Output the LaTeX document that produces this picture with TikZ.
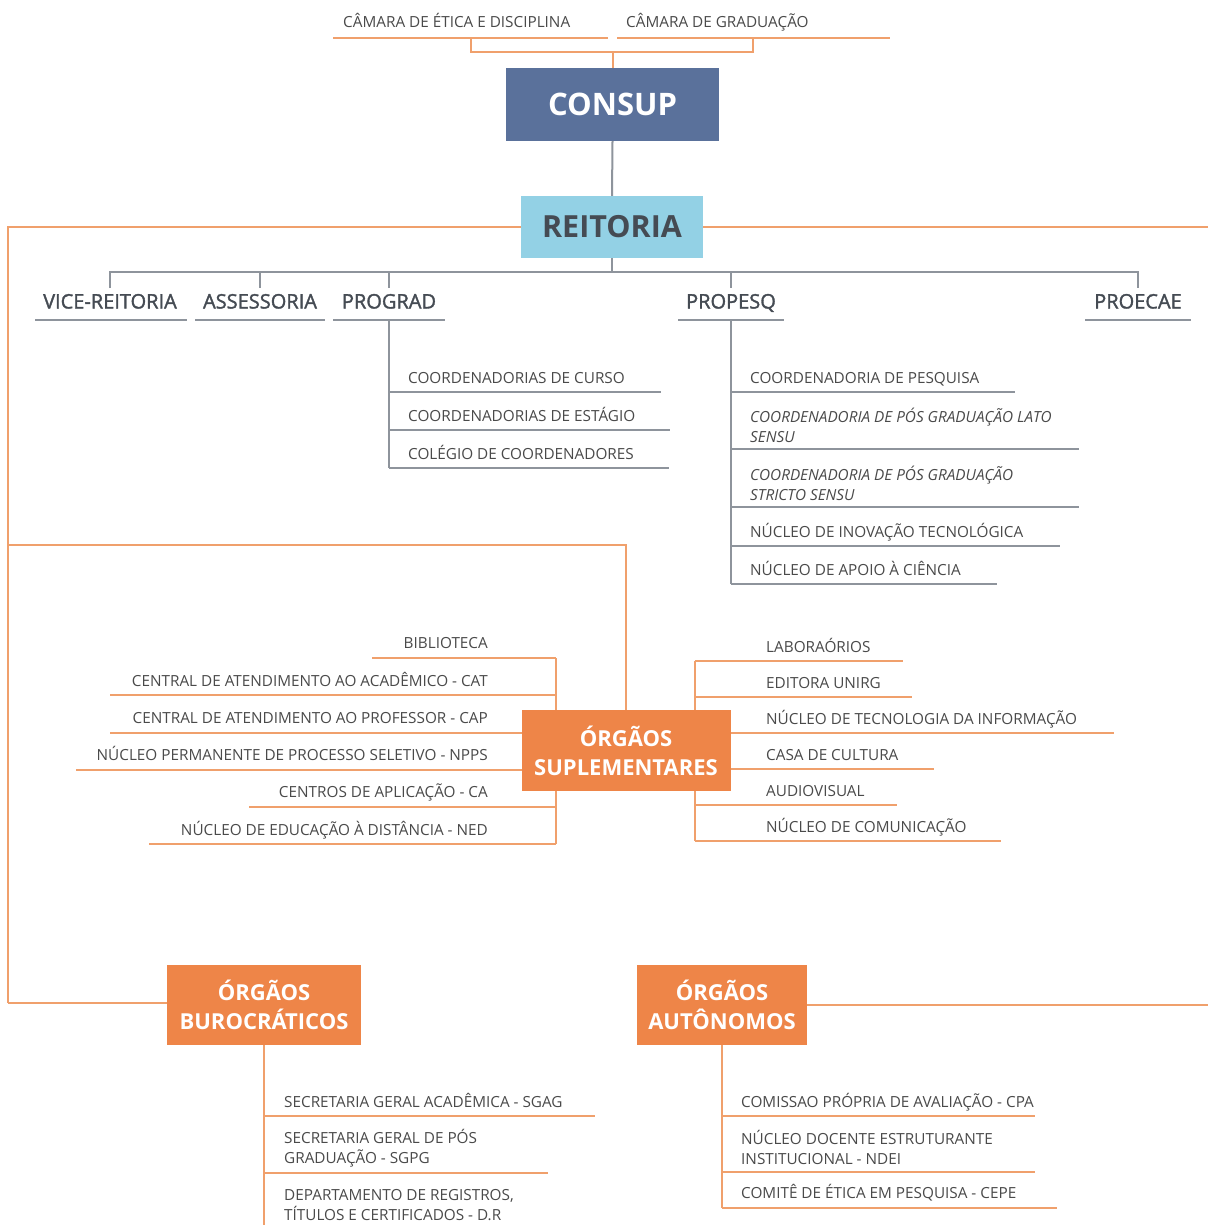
\documentclass[tikz,border=0pt]{standalone}
\usepackage{fontspec}
\setmainfont{Open Sans}
\newfontfamily\semib[FakeBold=1.6]{Open Sans}
\definecolor{lineor}{HTML}{F0A06C}
\definecolor{boxor}{HTML}{EE8548}
\definecolor{consupc}{HTML}{5A719B}
\definecolor{reitc}{HTML}{93D1E5}
\definecolor{lineg}{HTML}{8E949C}
\definecolor{txt}{HTML}{4A4A4A}
\definecolor{headc}{HTML}{454B53}
\begin{document}
\begin{tikzpicture}[x=1pt,y=-1pt,
  oline/.style={draw=lineor,line width=2pt},
  gline/.style={draw=lineg,line width=2pt},
  lbl/.style={font=\fontsize{15.3}{20}\selectfont,text=txt,inner sep=0pt,anchor=base west,align=left},
  lblm/.style={lbl,anchor=west},
  lblr/.style={lbl,anchor=base east,align=right},
  head/.style={font=\semib\fontsize{20}{22}\selectfont,text=headc,inner sep=0pt,anchor=base},
  obox/.style={fill=boxor,text=white,font=\bfseries\fontsize{22}{29}\selectfont,align=center,inner sep=0pt}]
\useasboundingbox[fill=white] (0,0) rectangle (1208,1225);

% ---------- top chambers ----------
\node[lbl] (cet) at (343,28) {CÂMARA DE ÉTICA E DISCIPLINA};
\node[lbl] (cgr) at (626,28) {CÂMARA DE GRADUAÇÃO};
\coordinate (cetA) at (333,38); \coordinate (cetB) at (608,38);
\coordinate (cgrA) at (617,38); \coordinate (cgrB) at (890,38);
\draw[oline] (cetA) -- (cetB);
\draw[oline] (cgrA) -- (cgrB);
\draw[oline] (471,38) |- (753,52) -- (753,38);

% ---------- main boxes ----------
\node[fill=consupc,text=white,font=\bfseries\fontsize{31}{33}\selectfont,minimum width=213pt,minimum height=73pt,inner sep=0pt] (consup) at (612.5,104.5) {CONSUP};
\draw[oline] (612.5,52) -- (consup.north);

% big orange lines
\coordinate (sw) at (8,227);
\coordinate (sb) at (8,545);
\coordinate (se) at (626,545);
\coordinate (bw) at (8,1003);
\coordinate (re) at (1208,227);
\coordinate (ae) at (1208,1005);

\node[fill=reitc,text=headc,font=\bfseries\fontsize{30.5}{32}\selectfont,minimum width=182pt,minimum height=62pt,inner sep=0pt] (reit) at (612,227) {REITORIA};
\draw[gline] (consup.south) -- (reit.north);

% ---------- gray tree ----------
\draw[gline] (reit.south) -- (612,272);
\draw[gline] (110,288) -- (110,272) -- (1138,272) -- (1138,288);
\foreach \x in {260,389,731} \draw[gline] (\x,272) -- (\x,288);

\node[head] (vice) at (110,308.5) {VICE-REITORIA};
\node[head] (asse) at (260,308.5) {ASSESSORIA};
\node[head] (prog) at (389,308.5) {PROGRAD};
\node[head] (prop) at (731,308.5) {PROPESQ};
\node[head] (proe) at (1138,308.5) {PROECAE};
\draw[gline] (35,320) -- (187,320);
\draw[gline] (195,320) -- (325,320);
\draw[gline] (333,320) -- (445,320);
\draw[gline] (678,320) -- (784,320);
\draw[gline] (1085,320) -- (1191,320);

% PROGRAD children
\draw[gline] (389,320) -- (389,468);
\node[lbl] (pg1) at (408,383) {COORDENADORIAS DE CURSO};
\node[lbl] (pg2) at (408,421) {COORDENADORIAS DE ESTÁGIO};
\node[lbl] (pg3) at (408,459) {COLÉGIO DE COORDENADORES};
\draw[gline] (389,392) -- (661,392);
\draw[gline] (389,430) -- (670,430);
\draw[gline] (389,468) -- (669,468);

% PROPESQ children
\draw[gline] (731,320) -- (731,584);
\node[lbl] (pp1) at (750,383) {COORDENADORIA DE PESQUISA};
\node[lblm,font=\itshape\fontsize{15.3}{20}\selectfont] (pp2) at (750,425) {COORDENADORIA DE PÓS GRADUAÇÃO LATO\\SENSU};
\node[lblm,font=\itshape\fontsize{15.3}{20}\selectfont] (pp3) at (750,483) {COORDENADORIA DE PÓS GRADUAÇÃO\\STRICTO SENSU};
\node[lbl] (pp4) at (750,537) {NÚCLEO DE INOVAÇÃO TECNOLÓGICA};
\node[lbl] (pp5) at (750,575) {NÚCLEO DE APOIO À CIÊNCIA};
\draw[gline] (731,392) -- (1015,392);
\draw[gline] (731,449) -- (1079,449);
\draw[gline] (731,507) -- (1079,507);
\draw[gline] (731,546) -- (1060,546);
\draw[gline] (731,584) -- (997,584);

% ---------- orange trunk lines ----------
\draw[oline] (reit.west) -- (sw) -- (bw);
\draw[oline] (reit.east) -- (re);
\draw[oline] (sb) -- (se) -- (626,710);

% ---------- Órgãos suplementares ----------
\draw[oline] (556,658) -- (556,844);
\node[lblr] (s1) at (488,648) {BIBLIOTECA};
\node[lblr] (s2) at (488,686) {CENTRAL DE ATENDIMENTO AO ACADÊMICO - CAT};
\node[lblr] (s3) at (488,723) {CENTRAL DE ATENDIMENTO AO PROFESSOR - CAP};
\node[lblr] (s4) at (488,760) {NÚCLEO PERMANENTE DE PROCESSO SELETIVO - NPPS};
\node[lblr] (s5) at (488,797) {CENTROS DE APLICAÇÃO - CA};
\node[lblr] (s6) at (488,835) {NÚCLEO DE EDUCAÇÃO À DISTÂNCIA - NED};
\draw[oline] (372,658) -- (556,658);
\draw[oline] (110,695) -- (556,695);
\draw[oline] (110,733) -- (556,733);
\draw[oline] (76,770) -- (556,770);
\draw[oline] (249,807) -- (556,807);
\draw[oline] (149,844) -- (556,844);

\draw[oline] (695,661) -- (695,841);
\node[lbl] (r1) at (766,652) {LABORAÓRIOS};
\node[lbl] (r2) at (766,688) {EDITORA UNIRG};
\node[lbl] (r3) at (766,724) {NÚCLEO DE TECNOLOGIA DA INFORMAÇÃO};
\node[lbl] (r4) at (766,760) {CASA DE CULTURA};
\node[lbl] (r5) at (766,796) {AUDIOVISUAL};
\node[lbl] (r6) at (766,832) {NÚCLEO DE COMUNICAÇÃO};
\draw[oline] (695,661) -- (903,661);
\draw[oline] (695,697) -- (912,697);
\draw[oline] (695,733) -- (1114,733);
\draw[oline] (695,769) -- (934,769);
\draw[oline] (695,805) -- (897,805);
\draw[oline] (695,841) -- (1001,841);

\node[obox,minimum width=209pt,minimum height=81pt] (supl) at (626,750.5) {ÓRGÃOS\\SUPLEMENTARES};

% ---------- Órgãos burocráticos ----------
\node[obox,minimum width=194pt,minimum height=80pt] (buro) at (264,1005) {ÓRGÃOS\\BUROCRÁTICOS};
\draw[oline] (bw) -- (buro.west |- bw);
\draw[oline] (buro.south) -- (264,1225);
\node[lbl] (b1) at (284,1107) {SECRETARIA GERAL ACADÊMICA - SGAG};
\node[lblm] (b2) at (284,1148) {SECRETARIA GERAL DE PÓS\\GRADUAÇÃO - SGPG};
\node[lblm] (b3) at (284,1205) {DEPARTAMENTO DE REGISTROS,\\TÍTULOS E CERTIFICADOS - D.R};
\draw[oline] (264,1116) -- (595,1116);
\draw[oline] (264,1173) -- (548,1173);

% ---------- Órgãos autônomos ----------
\node[obox,minimum width=170pt,minimum height=80pt] (auto) at (722,1005) {ÓRGÃOS\\AUTÔNOMOS};
\draw[oline] (auto.east) -- (ae);
\draw[oline] (auto.south) -- (722,1208);
\node[lbl] (a1) at (741,1107) {COMISSAO PRÓPRIA DE AVALIAÇÃO - CPA};
\node[lblm] (a2) at (741,1147) {NÚCLEO DOCENTE ESTRUTURANTE\\INSTITUCIONAL - NDEI};
\node[lbl] (a3) at (741,1198) {COMITÊ DE ÉTICA EM PESQUISA - CEPE};
\draw[oline] (722,1116) -- (1035,1116);
\draw[oline] (722,1172) -- (1035,1172);
\draw[oline] (722,1208) -- (1057,1208);
\end{tikzpicture}
\end{document}
